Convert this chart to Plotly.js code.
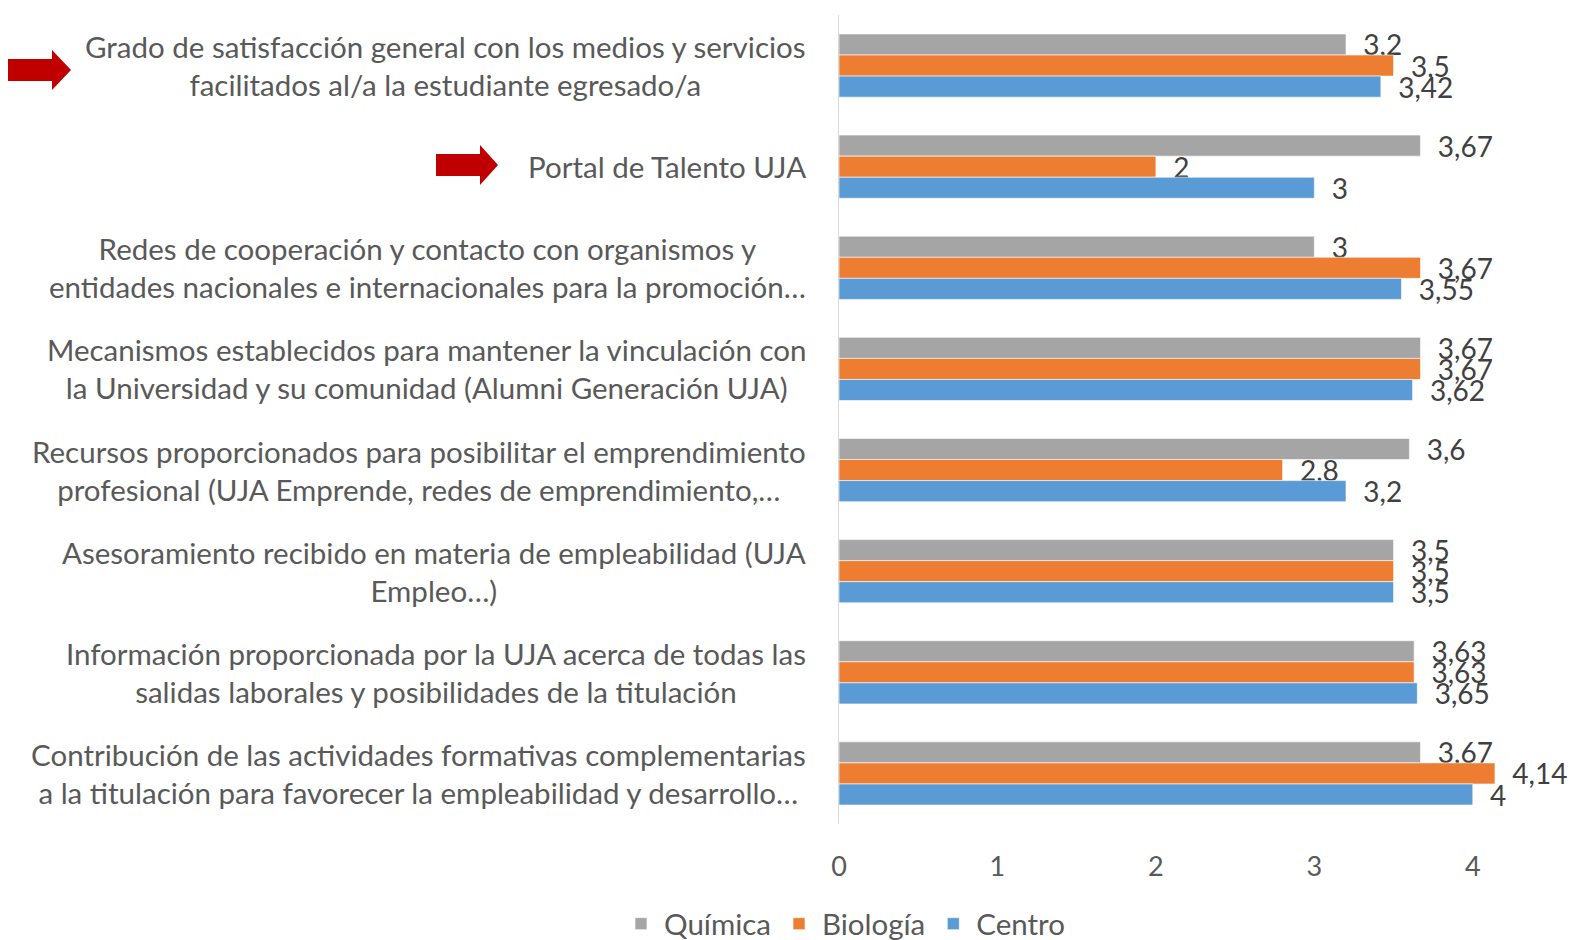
<!DOCTYPE html>
<html>
<head>
<meta charset="utf-8">
<script src="https://cdn.plot.ly/plotly-3.0.1.min.js"></script>
<style>html,body{margin:0;padding:0;background:#fff;}#chart{width:1572px;height:940px;}</style>
</head>
<body>
<div id="chart"></div>
<script>
const categories = [
  "Grado de satisfacción general con los medios y servicios<br>facilitados al/a la estudiante egresado/a",
  "Portal de Talento UJA",
  "Redes de cooperación y contacto con organismos y<br>entidades nacionales e internacionales para la promoción…",
  "Mecanismos establecidos para mantener la vinculación con<br>la Universidad y su comunidad (Alumni Generación UJA)",
  "Recursos proporcionados para posibilitar el emprendimiento<br>profesional (UJA Emprende, redes de emprendimiento,…",
  "Asesoramiento recibido en materia de empleabilidad (UJA<br>Empleo…)",
  "Información proporcionada por la UJA acerca de todas las<br>salidas laborales y posibilidades de la titulación",
  "Contribución de las actividades formativas complementarias<br>a la titulación para favorecer la empleabilidad y desarrollo…"
];
const quimica  = [3.2, 3.67, 3,    3.67, 3.6, 3.5, 3.63, 3.67];
const biologia = [3.5, 2,    3.67, 3.67, 2.8, 3.5, 3.63, 4.14];
const centro   = [3.42, 3,   3.55, 3.62, 3.2, 3.5, 3.65, 4];
const seriesNames = ["Química", "Biología", "Centro"];
const tickVals = [0, 1, 2, 3, 4];

const W = 1572, H = 940;
const M = {l: 839, r: 20, t: 15, b: 116};
const PW = W - M.l - M.r, PH = H - M.t - M.b;
const px = x => (x - M.l) / PW;
const py = y => 1 - (y - M.t) / PH;

const FONT = "Lato, 'Open Sans', sans-serif";
const fmt = v => "\u00a0\u00a0" + String(v).replace(".", ",");

function mk(name, vals, color) {
  return {
    type: "bar", orientation: "h", name: name,
    y: categories, x: vals,
    text: vals.map(fmt), textposition: "outside",
    textfont: {family: FONT, size: 28, color: "#404040"},
    constraintext: "none", cliponaxis: false,
    marker: {color: color, line: {color: "rgba(255,255,255,0.6)", width: 1}},
    hoverinfo: "x+y"
  };
}

const traces = [
  mk(seriesNames[0], quimica, "#A5A5A5"),
  mk(seriesNames[1], biologia, "#ED7D31"),
  mk(seriesNames[2], centro, "#5B9BD5")
];

function arrow(x0, xs, xt, yc, hs, hh) {
  return "M" + px(x0) + "," + py(yc - hs) +
    " L" + px(xs) + "," + py(yc - hs) +
    " L" + px(xs) + "," + py(yc - hh) +
    " L" + px(xt) + "," + py(yc) +
    " L" + px(xs) + "," + py(yc + hh) +
    " L" + px(xs) + "," + py(yc + hs) +
    " L" + px(x0) + "," + py(yc + hs) + " Z";
}

const annotations = categories.map(c => ({
  x: px(808), xref: "paper", xanchor: "right",
  y: c, yref: "y", yanchor: "middle",
  text: c, showarrow: false, align: "center",
  font: {family: FONT, size: 29.5, color: "#595959"}
}));

const layout = {
  width: W, height: H,
  margin: Object.assign({autoexpand: false}, M),
  paper_bgcolor: "#fff", plot_bgcolor: "#fff",
  barmode: "group", bargap: 0.375, bargroupgap: 0,
  showlegend: true,
  legend: {orientation: "h", x: 844 / W, xref: "container", xanchor: "center",
           y: 1 - 924 / H, yref: "container", yanchor: "middle",
           font: {family: FONT, size: 29.5, color: "#595959"}, traceorder: "normal",
           itemwidth: 36},
  xaxis: {range: [0, 4.5], tickvals: tickVals, ticktext: tickVals.map(String),
          showgrid: false, zeroline: false, showline: false, ticks: "",
          automargin: false, ticklabelstandoff: 24,
          tickfont: {family: FONT, size: 27, color: "#595959"}},
  yaxis: {autorange: "reversed", showticklabels: false, showgrid: false, zeroline: false,
          automargin: false,
          showline: true, linecolor: "#D9D9D9", linewidth: 1.5, ticks: ""},
  annotations: annotations,
  shapes: [
    {type: "path", xref: "paper", yref: "paper", path: arrow(8, 52, 71, 70, 11, 20),
     fillcolor: "#C00000", line: {width: 0}},
    {type: "path", xref: "paper", yref: "paper", path: arrow(436, 480, 498, 165, 11, 20),
     fillcolor: "#C00000", line: {width: 0}}
  ]
};

Plotly.newPlot("chart", traces, layout, {displayModeBar: false, staticPlot: true});
</script>
</body>
</html>
